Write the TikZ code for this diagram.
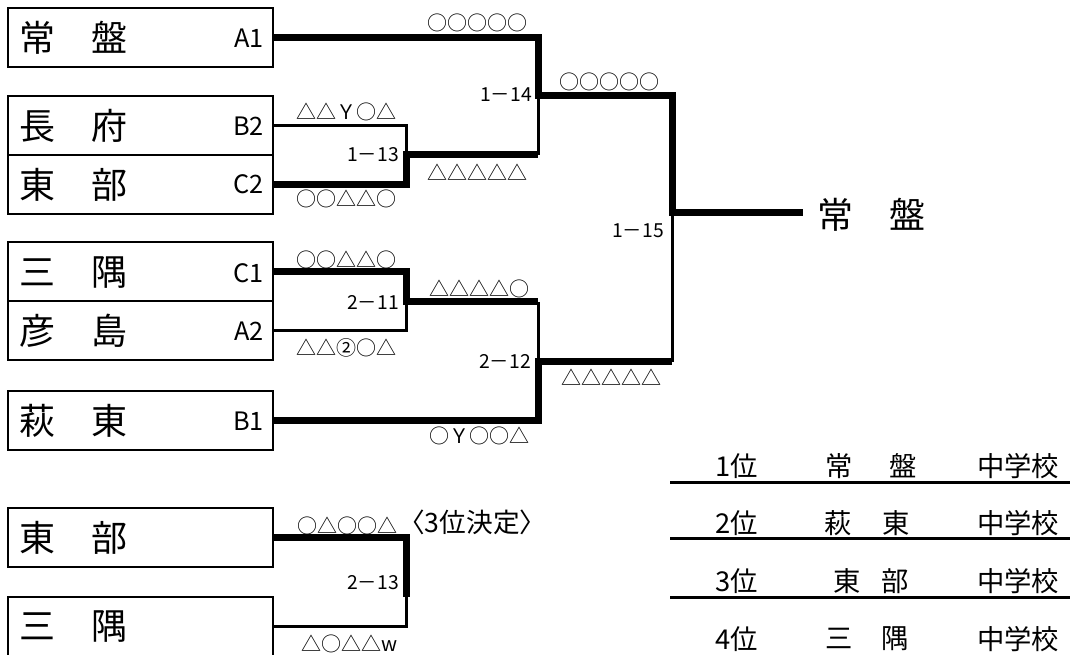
\documentclass[tikz,border=0pt]{standalone}
\usepackage{fontspec}
\setmainfont{Noto Sans CJK JP}
\usetikzlibrary{calc}

\begin{document}
\begin{tikzpicture}[x=0.75pt, y=-0.75pt,
	teambox/.style={draw, line width=1.5pt, minimum width=198.75pt, minimum height=44.25pt, inner sep=0pt},
	teamname/.style={anchor=west, inner sep=0pt, font=\fontsize{27pt}{27pt}\selectfont},
	seed/.style={anchor=east, inner sep=0pt, font=\fontsize{19pt}{19pt}\selectfont},
	score/.style={anchor=east, inner sep=0pt, font=\fontsize{15pt}{15pt}\selectfont},
	matchno/.style={anchor=east, inner sep=0pt, font=\fontsize{14.5pt}{14.5pt}\selectfont},
	ranktext/.style={inner sep=0pt, font=\fontsize{20.5pt}{20.5pt}\selectfont},
	winline/.style={line width=5.25pt, line join=miter},
	loseline/.style={line width=2.25pt}]
			\useasboundingbox (0,0) rectangle (1070,655);

			%boxes of the teams
			\node[teambox] (tokiwa) at (140.5,37.5) {};
			\node[teambox] (chofu) at (140.5,125.5) {};
			\node[teambox] (tobu) at (140.5,184.5) {};
			\node[teambox] (misumi) at (140.5,272) {};
			\node[teambox] (hikoshima) at (140.5,331) {};
			\node[teambox] (hagi) at (140.5,420.5) {};
			\node[teambox] (tobuB) at (140.5,537.5) {};
			\node[teambox] (misumiB) at (140.5,626.5) {};

			\node[teamname] (ntokiwa) at ($(tokiwa.west) + (12,0)$) {常　盤};
			\node[teamname] (nchofu) at ($(chofu.west) + (12,0)$) {長　府};
			\node[teamname] (ntobu) at ($(tobu.west) + (12,0)$) {東　部};
			\node[teamname] (nmisumi) at ($(misumi.west) + (12,0)$) {三　隅};
			\node[teamname] (nhikoshima) at ($(hikoshima.west) + (12,0)$) {彦　島};
			\node[teamname] (nhagi) at ($(hagi.west) + (12,0)$) {萩　東};
			\node[teamname] (ntobuB) at ($(tobuB.west) + (12,0)$) {東　部};
			\node[teamname] (nmisumiB) at ($(misumiB.west) + (12,0)$) {三　隅};

			\node[seed] (A1) at ($(tokiwa.east) + (-10,1)$) {A1};
			\node[seed] (B2) at ($(chofu.east) + (-10,1)$) {B2};
			\node[seed] (C2) at ($(tobu.east) + (-10,0)$) {C2};
			\node[seed] (C1) at ($(misumi.east) + (-10,1)$) {C1};
			\node[seed] (A2) at ($(hikoshima.east) + (-10,0)$) {A2};
			\node[seed] (B1) at ($(hagi.east) + (-10,1)$) {B1};

			%junctions
			\coordinate (j13) at (406,155);
			\coordinate (j14) at (538,96);
			\coordinate (j11) at (406,302);
			\coordinate (j12) at (538,362);
			\coordinate (j15) at (672,213);
			\coordinate (j3) at (406,597);
			\coordinate (champ) at (803,213);

			\draw[winline] (tokiwa.east) -| (j14) -- (j15 |- j14) -- (j15) -- (champ);
			\draw[winline] (tobu.east) -| (j13) -- (j14 |- j13);
			\draw[loseline] (chofu.east) -| (j13);
			\draw[loseline] (j14 |- j13) -- (j14);
			\draw[winline] (misumi.east) -| (j11) -- (j12 |- j11);
			\draw[loseline] (hikoshima.east) -| (j11);
			\draw[loseline] (j12 |- j11) -- (j12);
			\draw[winline] (hagi.east) -| (j12) -- (j15 |- j12);
			\draw[loseline] (j15 |- j12) -- (j15);
			\draw[winline] (tobuB.east) -| (j3);
			\draw[loseline] (misumiB.east) -| (j3);

			\node[matchno] (m13) at ($(j13) + (-7,0)$) {1－13};
			\node[matchno] (m14) at ($(j14) + (-6,-1)$) {1－14};
			\node[matchno] (m11) at ($(j11) + (-7,0)$) {2－11};
			\node[matchno] (m12) at ($(j12) + (-7,-1)$) {2－12};
			\node[matchno] (m15) at ($(j15) + (-8,18)$) {1－15};
			\node[matchno] (m3) at ($(j3) + (-7,-14)$) {2－13};

			%scores
			\node[score] (s14a) at (528,23) {○○○○○};
			\node[score] (s15a) at (660,82) {○○○○○};
			\node[score] (s13a) at (397,112) {△△Ｙ○△};
			\node[score] (s14b) at (528,172) {△△△△△};
			\node[score] (s13b) at (397,199) {○○△△○};
			\node[score] (s11a) at (397,260) {○○△△○};
			\node[score] (s12a) at (530,289) {△△△△○};
			\node[score] (s11b) at (397,348) {△△②○△};
			\node[score] (s15b) at (662,377) {△△△△△};
			\node[score] (s12b) at (530,436) {○Ｙ○○△};
			\node[score] (s3a) at (398,526) {○△○○△};
			\node[score] (s3b) at (398,644) {△○△△w};
			\node[anchor=west, inner sep=0pt, font=\fontsize{20pt}{20pt}\selectfont] (third) at ($(s3a.east) + (0,-4)$) {〈3位決定〉};

			\node[teamname] (champname) at ($(champ) + (14,2)$) {常　盤};

			%ranking
			\node[ranktext, anchor=west] (r1) at (715,466) {1位};
			\node[ranktext] (r1n) at (871,466) {常\hspace{27pt}盤};
			\node[ranktext, anchor=west] (r1s) at (977,466) {中学校};
			\node[ranktext, anchor=west] (r2) at (715,523) {2位};
			\node[ranktext] (r2n) at (867,523) {萩\hspace{23pt}東};
			\node[ranktext, anchor=west] (r2s) at (977,523) {中学校};
			\node[ranktext, anchor=west] (r3) at (715,581) {3位};
			\node[ranktext] (r3n) at (871,581) {東\hspace{16pt}部};
			\node[ranktext, anchor=west] (r3s) at (977,581) {中学校};
			\node[ranktext, anchor=west] (r4) at (715,639) {4位};
			\node[ranktext] (r4n) at (867,639) {三\hspace{21pt}隅};
			\node[ranktext, anchor=west] (r4s) at (977,639) {中学校};

			\draw[line width=2.25pt] (670,482) -- (1070,482);
			\draw[line width=2.25pt] (670,538) -- (1070,538);
			\draw[line width=2.25pt] (670,597) -- (1070,597);

		\end{tikzpicture}
\end{document}
